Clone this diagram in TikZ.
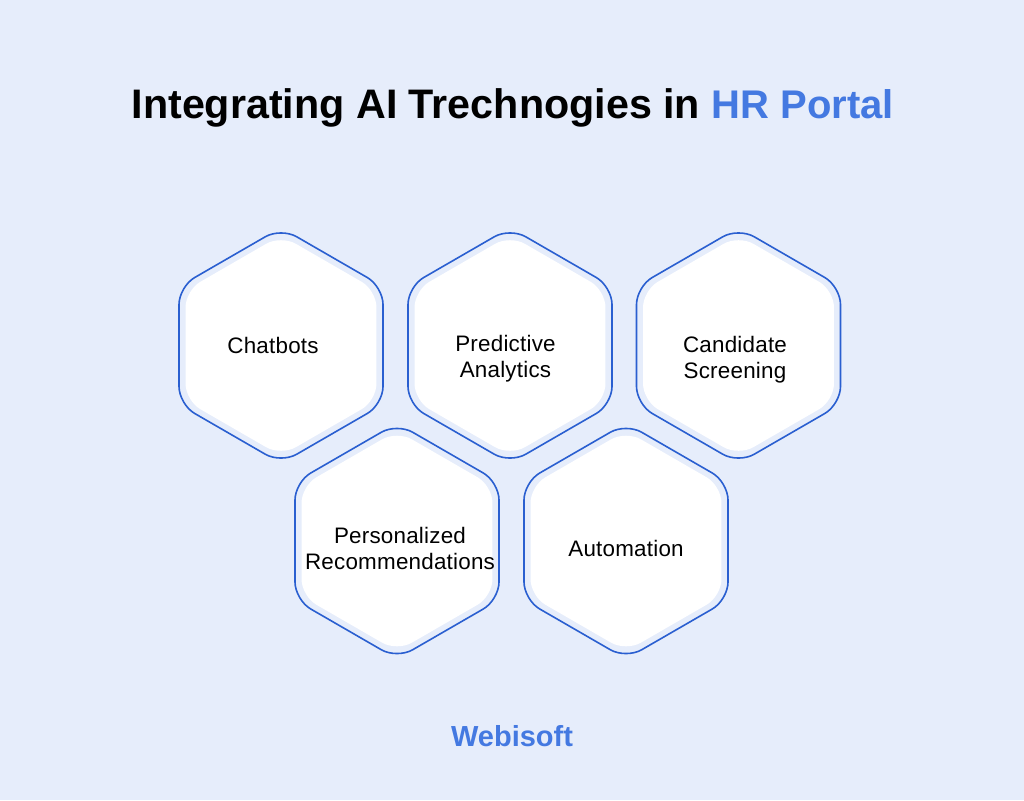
\documentclass[tikz,border=0pt]{standalone}
\usepackage{fontspec}
\setmainfont{Liberation Sans}
\newfontfamily\labfont[LetterSpace=1.0]{Liberation Sans}
\usetikzlibrary{shapes.geometric}
\definecolor{bgc}{HTML}{E6EDFB}
\definecolor{linec}{HTML}{2A5FD0}
\definecolor{accent}{HTML}{4479E1}
\tikzset{
  hexline/.style={regular polygon,regular polygon sides=6,shape border rotate=90,minimum size=235.6pt,inner sep=0pt,outer sep=0pt,draw=linec,line width=1.6pt,rounded corners=18pt},
  hexfill/.style={regular polygon,regular polygon sides=6,shape border rotate=90,minimum size=220.5pt,inner sep=0pt,outer sep=0pt,fill=white,rounded corners=17pt},
  lab/.style={font=\labfont\fontsize{22.4}{26}\selectfont,text=black,align=center,inner sep=0pt,anchor=center},
}
\begin{document}
\begin{tikzpicture}[x=1pt,y=-1pt]
\useasboundingbox (0,0) rectangle (1024,800);
\fill[bgc] (0,0) rectangle (1024,800);
\node[anchor=base,inner sep=0pt,font=\bfseries] (title) at (512.7,118) {\fontsize{41.25}{48}\selectfont Integrating AI Trechnogies in \textcolor{accent}{\fontsize{40}{48}\selectfont HR Portal}};
\foreach \n/\x/\y in {a/281/345.5,b/510/345.5,c/738.5/345.5,d/397/541,e/626/541}{
  \node[hexfill] (\n f) at (\x,\y) {};
  \node[hexline] (\n) at (\x,\y) {};
}
\node[lab] (la) at (273,345) {Chatbots};
\node[lab] (lb) at (505.5,359) {Predictive\\Analytics};
\node[lab] (lc) at (735,360) {Candidate\\Screening};
\node[lab] (ld) at (400,548.5) {Personalized\\Recommendations};
\node[lab] (le) at (626,548) {Automation};
\node[anchor=base,inner sep=0pt,font=\fontsize{29}{34}\selectfont\bfseries,text=accent] (brand) at (512,746) {Webisoft};
\end{tikzpicture}
\end{document}
